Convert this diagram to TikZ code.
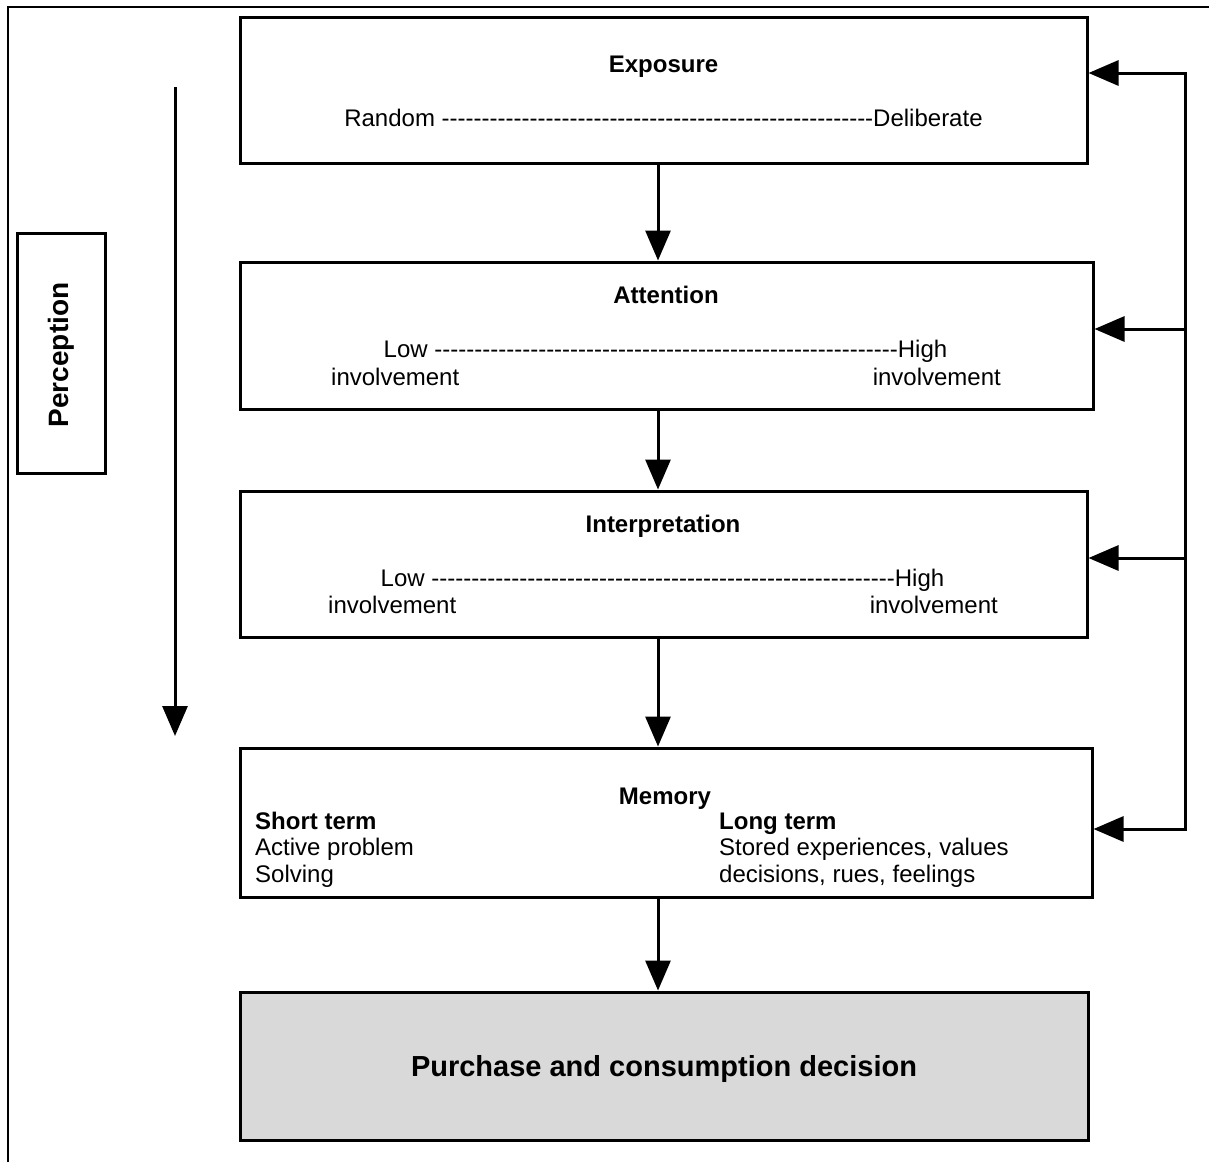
\documentclass[tikz,border=0pt]{standalone}
\usepackage{fontspec}
\setmainfont{Liberation Sans}[Ligatures=TeXOff]
\usetikzlibrary{arrows.meta,calc}
\ExplSyntaxOn
\cs_new:Npn \mydashes #1 {\prg_replicate:nn{#1}{-}}
\ExplSyntaxOff
\tikzset{
  box/.style={draw=black, line width=3pt, rectangle, inner sep=0pt, fill=white},
  conn/.style={line width=3pt, -{Triangle[length=30pt,width=25pt]}},
  plainline/.style={line width=3pt},
  txt/.style={inner sep=0pt, font=\fontsize{24}{28}\selectfont},
  ttl/.style={inner sep=0pt, font=\fontsize{24}{28}\selectfont\bfseries},
}
\begin{document}
\begin{tikzpicture}[x=1pt,y=-1pt]
\useasboundingbox (0,0) rectangle (1209,1162);
% outer frame (top and left edges)
\coordinate (fr1) at (8,1162);
\coordinate (fr2) at (8,7);
\coordinate (fr3) at (1209,7);
\draw[line width=2pt] (fr1) -- (fr2) -- (fr3);

% boxes
\node[box, minimum width=847pt, minimum height=146pt] (exp) at (663.5,90) {};
\node[box, minimum width=853pt, minimum height=147pt] (att) at (666.5,335.5) {};
\node[box, minimum width=847pt, minimum height=146pt] (int) at (663.5,564) {};
\node[box, minimum width=852pt, minimum height=149pt] (mem) at (666,822.5) {};
\node[box, fill={rgb,255:red,217;green,217;blue,217}, minimum width=848pt, minimum height=148pt] (pur) at (664,1066) {};
\node[box, minimum width=88pt, minimum height=240pt] (perbox) at (61,353) {};

% texts
\node[ttl, anchor=base] (expT) at (663.5,72) {Exposure};
\node[txt, anchor=base] (expL) at (663.5,126) {Random \mydashes{54}Deliberate};

\node[ttl, anchor=base] (attT) at (666,303) {Attention};
\node[txt, anchor=base] (attL) at (665.5,357) {Low \mydashes{58}High};
\node[txt, anchor=base west] (attI1) at (331,385) {involvement};
\node[txt, anchor=base east] (attI2) at (1001,385) {involvement};

\node[ttl, anchor=base] (intT) at (663,532) {Interpretation};
\node[txt, anchor=base] (intL) at (662.5,586) {Low \mydashes{58}High};
\node[txt, anchor=base west] (intI1) at (328,613) {involvement};
\node[txt, anchor=base east] (intI2) at (998,613) {involvement};

\node[ttl, anchor=base] (memT) at (665,804) {Memory};
\node[ttl, anchor=base west] (ms1) at (255,829) {Short term};
\node[txt, anchor=base west] (ms2) at (255,855) {Active problem};
\node[txt, anchor=base west] (ms3) at (255,882) {Solving};
\node[ttl, anchor=base west] (ml1) at (719,829) {Long term};
\node[txt, anchor=base west] (ml2) at (719,855) {Stored experiences, values};
\node[txt, anchor=base west] (ml3) at (719,882) {decisions, rues, feelings};

\node[inner sep=0pt, font=\fontsize{29}{34}\selectfont\bfseries, anchor=base] (purT) at (664,1076) {Purchase and consumption decision};

\node[inner sep=0pt, font=\fontsize{28}{32}\selectfont\bfseries, rotate=90, anchor=base] (perT) at (68,355) {Perception};

% main vertical connectors
\coordinate (ax) at (658,0);
\draw[conn] (exp.south -| ax) -- (att.north -| ax);
\draw[conn] (att.south -| ax) -- (int.north -| ax);
\draw[conn] (int.south -| ax) -- (mem.north -| ax);
\draw[conn] (mem.south -| ax) -- (pur.north -| ax);

% feedback connectors
\coordinate (f1) at (1185,73);
\coordinate (f2) at (1185,329);
\coordinate (f3) at (1185,558);
\coordinate (f4) at (1185,829);
\draw[conn] (f3) -- (f1) -- (f1 -| exp.east);
\draw[conn] (f2) -- (f2 -| att.east);
\draw[conn] (f3) -- (f3 -| int.east);
\draw[conn] (f2) -- (f4) -- (f4 -| mem.east);

% perception arrow
\coordinate (pa) at (175,87);
\coordinate (pb) at (175,736);
\draw[conn] (pa) -- (pb);
\end{tikzpicture}
\end{document}
